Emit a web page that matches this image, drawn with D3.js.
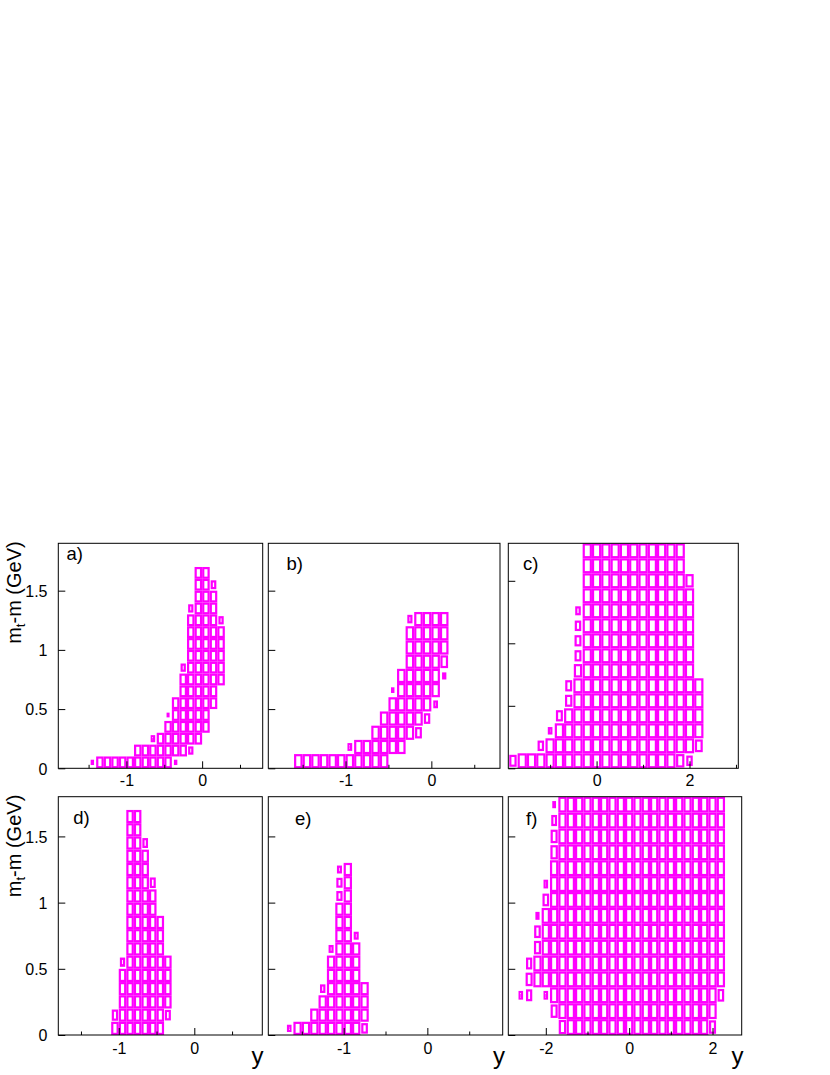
<!DOCTYPE html>
<html><head><meta charset="utf-8">
<script src="https://cdn.jsdelivr.net/npm/d3@7"></script>
<style>body{margin:0;background:#fff} text{font-family:"Liberation Sans",Arial,Helvetica,sans-serif}</style>
</head><body><svg id="chart" width="830" height="1075"></svg>
<script>
// ---------------- DATA ----------------
// axis ranges (y = rapidity, mt-m in GeV)
const aXRange = [-1.9, 0.8], aYRange = [0, 1.9];
const bXRange = [-1.9, 0.8], bYRange = [0, 1.9];
const cXRange = [-1.9, 3.05], cYRange = [0, 1.8];
const dXRange = [-1.8, 0.9], dYRange = [0, 1.8];
const eXRange = [-1.9, 0.9], eYRange = [0, 1.8];
const fXRange = [-2.9, 2.7], fYRange = [0, 1.8];
// bin widths [x, y]
const aBin = [0.1, 0.1], bBin = [0.1, 0.12], cBin = [0.2, 0.12];
const dBin = [0.1, 0.1], eBin = [0.1, 0.1], fBin = [0.2, 0.12];
// tick values
const aMajor = [-1, 0], aMinor = [-1.5, -0.5, 0.5];
const bMajor = [-1, 0], bMinor = [-1.5, -0.5, 0.5];
const cMajor = [0, 2], cMinor = [-1, 1, 3];
const dMajor = [-1, 0], dMinor = [-1.5, -0.5, 0.5];
const eMajor = [-1, 0], eMinor = [-1.5, -0.5, 0.5];
const fMajor = [-2, 0, 2], fMinor = [-1, 1];
const yTickValues = [0, 0.5, 1, 1.5];
const panelLabels = ["a)", "b)", "c)", "d)", "e)", "f)"];

// cell contents: for each mt-m row, the low edge of the first filled y-bin and
// the relative box sizes of consecutive bins (1 = full box, 0 = empty)
const aStart = [-1.5, -0.9, -0.7, -0.5, -0.5, -0.4, -0.3, -0.3, -0.3, -0.2, -0.2, -0.2, -0.2, -0.2, -0.1, -0.1, -0.1];
const aBoxes = [
  [0.45, 1,1,1,1,1, 1,1,1,1,1, 0.45],
  [1,1,1,1,1, 1,1, 0.7],
  [0.6, 1,1,1,1,1, 1],
  [1,1,1,1,1, 1],
  [0.4, 1,1,1,1,1],
  [1,1,1,1,1, 1],
  [1,1,1,1,1],
  [1,1,1,1,1, 1],
  [0.7, 1,1,1,1,1],
  [1,1,1,1,1],
  [1,1,1,1,1],
  [1,1,1,1,1],
  [1,1,1,1, 0.7],
  [0.7, 1,1,1],
  [1,1,1],
  [1,1, 0.75],
  [1,1]
];
const bStart = [-1.6, -1.0, -0.7, -0.6, -0.5, -0.5, -0.4, -0.3, -0.3, -0.3, -0.3];
const bBoxes = [
  [1,1,1,1,1, 1,1,1,1,1, 1],
  [0.55, 1,1,1,1,1, 1],
  [1,1,1,1,1, 0.8],
  [1,1,1,1,1, 0.75],
  [1,1,1,1,1, 0.55],
  [0.4, 1,1,1,1,1],
  [1,1,1,1,1, 0.5],
  [1,1,1,1, 0.9],
  [1,1,1,1,1],
  [1,1,1,1,1],
  [0.6, 1,1,1,1]
];
const cStart = [-1.9, -1.3, -1.1, -0.9, -0.7, -0.7, -0.5, -0.5, -0.5, -0.5, -0.5, -0.3, -0.3, -0.3, -0.3];
const cBoxes = [
  [0.8, 1,1,1,1,1, 1,1,1,1,1, 1,1,1,1,1, 1,1, 0.9, 0.7],
  [0.7, 1,1,1,1,1, 1,1,1,1,1, 1,1,1,1,1, 1, 0.85],
  [0.5, 1,1,1,1,1, 1,1,1,1,1, 1,1,1,1,1, 1],
  [0.75, 1,1,1,1,1, 1,1,1,1,1, 1,1,1,1,1],
  [0.8, 1,1,1,1,1, 1,1,1,1,1, 1,1,1,1],
  [0.75, 1,1,1,1,1, 1,1,1,1,1, 1,1,1,1],
  [0.9, 1,1,1,1,1, 1,1,1,1,1, 1,1],
  [0.75, 1,1,1,1,1, 1,1,1,1,1, 1,1],
  [0.75, 1,1,1,1,1, 1,1,1,1,1, 1,1],
  [0.7, 1,1,1,1,1, 1,1,1,1,1, 1,1],
  [0.6, 1,1,1,1,1, 1,1,1,1,1, 1,1],
  [1,1,1,1,1, 1,1,1,1,1, 1,1],
  [1,1,1,1,1, 1,1,1,1,1, 1, 0.9],
  [1,1,1,1,1, 1,1,1,1,1, 1],
  [1,1,1,1,1, 1,1,1,1,1, 1]
];
const dStart = [-1.1, -1.1, -1.0, -1.0, -1.0, -1.0, -0.9, -0.9, -0.9, -0.9, -0.9, -0.9, -0.9, -0.9, -0.9, -0.9, -0.9];
const dBoxes = [
  [1,1,1,1,1, 1,1],
  [0.85, 1,1,1,1,1, 1, 0.8],
  [1,1,1,1,1, 1,1],
  [1,1,1,1,1, 1,1],
  [1,1,1,1,1, 1,1],
  [0.7, 1,1,1,1,1, 1],
  [1,1,1,1,1],
  [1,1,1,1,1],
  [1,1,1,1,1],
  [1,1,1,1],
  [1,1,1,1],
  [1,1,1, 0.8],
  [1,1,1],
  [1,1,1],
  [1,1, 0.75],
  [1,1],
  [1,1]
];
const eStart = [-1.7, -1.4, -1.3, -1.3, -1.2, -1.2, -1.2, -1.1, -1.1, -1.1, -1.1, -1.1, -1.1];
const eBoxes = [
  [0.55, 1,1,1,1,1, 1,1,1, 0.8],
  [1,1,1,1,1, 1,1],
  [1,1,1,1,1, 1],
  [0.65, 1,1,1,1,1],
  [1,1,1,1],
  [1,1,1,1],
  [0.6, 1,1,1],
  [1,1, 0.6],
  [1,1],
  [1,1],
  [0.75, 1],
  [0.75, 1],
  [0.6, 1]
];
const fStart = [-1.7, -1.9, -2.7, -2.5, -2.5, -2.3, -2.3, -2.3, -2.1, -2.1, -1.9, -1.9, -1.9, -1.9, -1.9];
const fBoxes = [
  [0.9, 1,1,1,1,1, 1,1,1,1,1, 1,1,1,1,1, 1,1, 0.85],
  [0.85, 1,1,1,1,1, 1,1,1,1,1, 1,1,1,1,1, 1,1,1,1],
  [0.55, 0.75, 0, 0.55, 1,1,1,1,1, 1,1,1,1,1, 1,1,1,1,1, 1,1,1,1,1, 0.8],
  [0.85, 1,1,1,1,1, 1,1,1,1,1, 1,1,1,1,1, 1,1,1,1,1, 1,1,1],
  [0.75, 1,1,1,1,1, 1,1,1,1,1, 1,1,1,1,1, 1,1,1,1,1, 1,1,1],
  [0.85, 1,1,1,1,1, 1,1,1,1,1, 1,1,1,1,1, 1,1,1,1,1, 1,1],
  [0.8, 1,1,1,1,1, 1,1,1,1,1, 1,1,1,1,1, 1,1,1,1,1, 1,1],
  [0.5, 1,1,1,1,1, 1,1,1,1,1, 1,1,1,1,1, 1,1,1,1,1, 1,1],
  [0.8, 1,1,1,1,1, 1,1,1,1,1, 1,1,1,1,1, 1,1,1,1,1, 1],
  [0.55, 1,1,1,1,1, 1,1,1,1,1, 1,1,1,1,1, 1,1,1,1,1, 1],
  [1,1,1,1,1, 1,1,1,1,1, 1,1,1,1,1, 1,1,1,1,1, 1],
  [0.9, 1,1,1,1,1, 1,1,1,1,1, 1,1,1,1,1, 1,1,1,1,1],
  [0.85, 1,1,1,1,1, 1,1,1,1,1, 1,1,1,1,1, 1,1,1,1,1],
  [0.7, 1,1,1,1,1, 1,1,1,1,1, 1,1,1,1,1, 1,1,1,1,1],
  [0.45, 1,1,1,1,1, 1,1,1,1,1, 1,1,1,1,1, 1,1,1,1,1]
];

// ---------------- LAYOUT ----------------
const TOP = [543.3, 768.3], BOT = [796.7, 1035];
const panels = [
  {fx:[58.3,262.7], fy:TOP, xd:aXRange, yd:aYRange, bin:aBin, st:aStart, bx:aBoxes, maj:aMajor, min:aMinor, lab:[66.5,560], yLab:true,  pad:6},
  {fx:[268.3,500],  fy:TOP, xd:bXRange, yd:bYRange, bin:bBin, st:bStart, bx:bBoxes, maj:bMajor, min:bMinor, lab:[286.5,569.5], yLab:false, pad:6},
  {fx:[508.3,738.3],fy:TOP, xd:cXRange, yd:cYRange, bin:cBin, st:cStart, bx:cBoxes, maj:cMajor, min:cMinor, lab:[523,569.5],  yLab:false, pad:6},
  {fx:[58.3,262.3], fy:BOT, xd:dXRange, yd:dYRange, bin:dBin, st:dStart, bx:dBoxes, maj:dMajor, min:dMinor, lab:[73.3,824],  yLab:true,  pad:7.5, yt:263.5},
  {fx:[268.3,502.7],fy:BOT, xd:eXRange, yd:eYRange, bin:eBin, st:eStart, bx:eBoxes, maj:eMajor, min:eMinor, lab:[295,824.5],  yLab:false, pad:7.5, yt:505},
  {fx:[508.3,741.7],fy:BOT, xd:fXRange, yd:fYRange, bin:fBin, st:fStart, bx:fBoxes, maj:fMajor, min:fMinor, lab:[526,824.5],  yLab:false, pad:7.5, yt:743.5}
];

const svg = d3.select("#chart");
svg.append("rect").attr("width", 830).attr("height", 1075).attr("fill", "#fff");
const MAG = "#ff00ff";

panels.forEach((p, pi) => {
  const x = d3.scaleLinear().domain(p.xd).range(p.fx);
  const y = d3.scaleLinear().domain(p.yd).range([p.fy[1], p.fy[0]]);
  const clipId = "clip" + pi;
  svg.append("clipPath").attr("id", clipId).append("rect")
    .attr("x", p.fx[0]).attr("y", p.fy[0]).attr("width", p.fx[1]-p.fx[0]).attr("height", p.fy[1]-p.fy[0]);
  const g = svg.append("g").attr("clip-path", `url(#${clipId})`);
  const cells = [];
  p.st.forEach((s, r) => {
    p.bx[r].forEach((f, i) => {
      if (f > 0) cells.push({xlo: s + i*p.bin[0], ylo: r*p.bin[1], f});
    });
  });
  const sw = 2.2, ins = sw/2;
  g.selectAll("rect").data(cells).join("rect")
    .attr("x", d => { const a = x(d.xlo), b = x(d.xlo + p.bin[0]); return (a+b)/2 - (b-a)*d.f/2 + ins; })
    .attr("y", d => { const a = y(d.ylo + p.bin[1]), b = y(d.ylo); return (a+b)/2 - (b-a)*d.f/2 + ins; })
    .attr("width", d => Math.max(0.5, (x(d.xlo + p.bin[0]) - x(d.xlo))*d.f - 2*ins))
    .attr("height", d => Math.max(0.5, (y(d.ylo) - y(d.ylo + p.bin[1]))*d.f - 2*ins))
    .attr("fill", "none").attr("stroke", MAG).attr("stroke-width", sw);

  // x axis major ticks + labels
  const xa = svg.append("g").attr("transform", `translate(0,${p.fy[1]})`)
    .call(d3.axisBottom(x).tickValues(p.maj).tickSizeInner(-7).tickSizeOuter(0).tickPadding(p.pad).tickFormat(d => String(d)));
  xa.select(".domain").remove();
  xa.selectAll("text").attr("font-size", 16).attr("font-family", "Liberation Sans, Arial, sans-serif").attr("fill", "#000");
  xa.selectAll("line").attr("stroke", "#000");
  // minor ticks
  const xm = svg.append("g").attr("transform", `translate(0,${p.fy[1]})`)
    .call(d3.axisBottom(x).tickValues(p.min).tickSizeInner(-3.5).tickSizeOuter(0).tickFormat(""));
  xm.select(".domain").remove();
  xm.selectAll("line").attr("stroke", "#000");
  // y axis
  const ya = svg.append("g").attr("transform", `translate(${p.fx[0]},0)`)
    .call(d3.axisLeft(y).tickValues(yTickValues).tickSizeInner(-7).tickSizeOuter(0).tickPadding(10.8)
      .tickFormat(d => p.yLab ? String(d) : ""));
  ya.select(".domain").remove();
  ya.selectAll("text").attr("font-size", 16).attr("dy", "0.36em").attr("font-family", "Liberation Sans, Arial, sans-serif").attr("fill", "#000");
  ya.selectAll("line").attr("stroke", "#000");

  // frame
  svg.append("rect").attr("x", p.fx[0]).attr("y", p.fy[0])
    .attr("width", p.fx[1]-p.fx[0]).attr("height", p.fy[1]-p.fy[0])
    .attr("fill", "none").attr("stroke", "#000").attr("stroke-width", 1);

  // panel label
  svg.append("text").attr("x", p.lab[0]).attr("y", p.lab[1]).attr("font-size", 18.5).text(panelLabels[pi]);

  // y-axis title (first column)
  if (p.yLab) {
    const t = svg.append("text").attr("text-anchor", "end").attr("font-size", 20)
      .attr("transform", `translate(21,${p.fy[0]-2}) rotate(-90)`);
    t.append("tspan").text("m");
    t.append("tspan").attr("font-size", 13).attr("dy", 4).text("t");
    t.append("tspan").attr("dy", -4).text("-m (GeV)");
  }
  // x-axis title (bottom row)
  if (p.yt) {
    svg.append("text").attr("x", p.yt).attr("y", 1064).attr("text-anchor", "end").attr("font-size", 24).text("y");
  }
});
</script></body></html>
